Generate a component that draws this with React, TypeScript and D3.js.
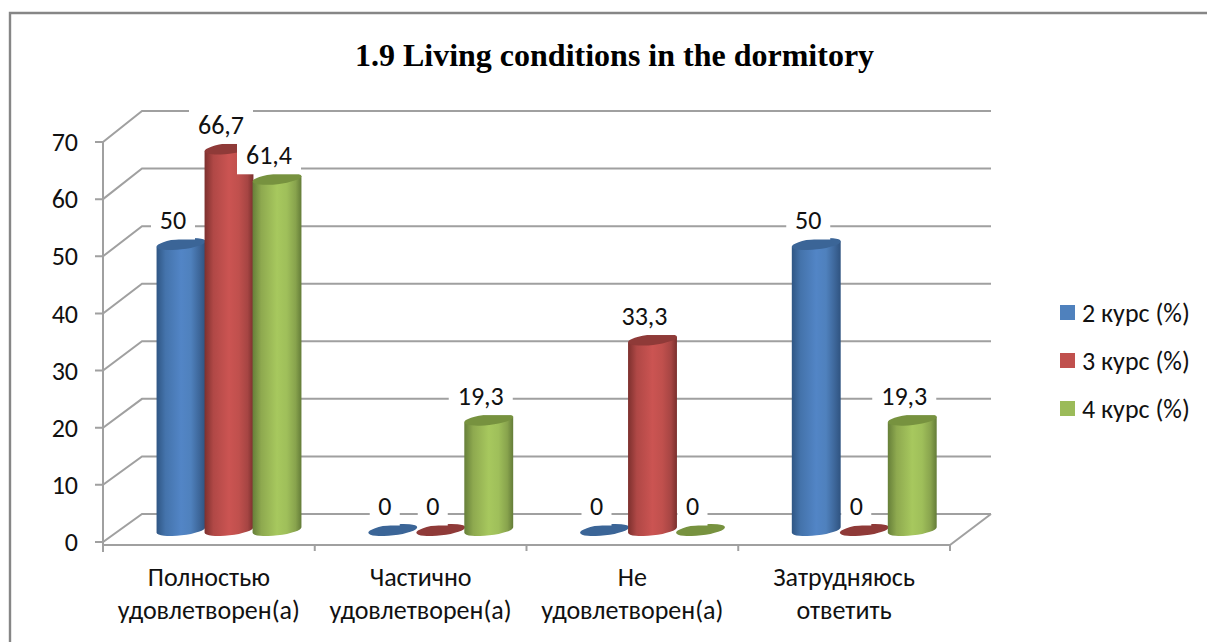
import React from "react";
import * as d3 from "d3";

const title = "1.9 Living conditions in the dormitory";
const categories = ["cat1", "cat2", "cat3", "cat4"];
const categoryLabels = [
  ["Полностью", "удовлетворен(а)"],
  ["Частично", "удовлетворен(а)"],
  ["Не", "удовлетворен(а)"],
  ["Затрудняюсь", "ответить"],
];
const seriesNames = ["2 курс (%)", "3 курс (%)", "4 курс (%)"];
const course2 = [50, 0, 0, 50];
const course3 = [66.7, 0, 33.3, 0];
const course4 = [61.4, 19.3, 0, 19.3];
const seriesValues = [course2, course3, course4];
const yTicks = [0, 10, 20, 30, 40, 50, 60, 70];

const legendColors = ["#4f81bd", "#c0504d", "#9bbb59"];
const capColors = ["#3b6597", "#8f3a38", "#77923f"];
const gradStops = [
  ["#2f5684", "#4473ab", "#5285c6", "#4f81bd", "#3d6699", "#2f5380"],
  ["#7d302e", "#b04846", "#cb5452", "#c0504d", "#a64543", "#7a2f2d"],
  ["#667f39", "#8ea94f", "#a7c85e", "#9fbf5a", "#88a34d", "#647c38"],
];
const stopOffsets = [0, 0.18, 0.5, 0.7, 0.88, 1];

const FONT = "Carlito, Lato, 'Open Sans', sans-serif";
const FONT_SIZE = 26;
const GRID = "#a0a0a0";
const TEXT = "#111";

const fmt = (v: number) => String(v).replace(".", ",");

export default function App() {
  const yFront = d3.scaleLinear().domain([0, 70]).range([542, 142]);
  const yBack = d3.scaleLinear().domain([0, 70]).range([514, 111]);
  const yBar = d3.scaleLinear().domain([0, 70]).range([530, 129.6]);
  const x0 = d3.scaleBand<string>().domain(categories).range([103, 950]);
  const x1 = d3.scaleBand<string>().domain(seriesNames).range([54, 198]);

  const rx = 24.6;
  const ry = 5.4;
  const rot = -6.5;
  const dy = rx * Math.sin((-rot * Math.PI) / 180);
  const dx = rx * Math.cos((-rot * Math.PI) / 180);

  const bars = seriesNames.flatMap((s, si) =>
    categories.map((c, ci) => {
      const v = seriesValues[si][ci];
      const cx = (x0(c) as number) + (x1(s) as number) + x1.bandwidth() / 2;
      return { si, ci, v, cx, top: yBar(v), base: yBar(0) };
    })
  );

  return (
    <svg
      width={1207}
      height={642}
      viewBox="0 0 1207 642"
      style={{ position: "absolute", left: 0, top: 0, display: "block", background: "#fff" }}
    >
      <defs>
        {gradStops.map((st, i) => (
          <linearGradient key={i} id={`cyl${i}`} x1="0" x2="1" y1="0" y2="0">
            {st.map((col, j) => (
              <stop key={j} offset={stopOffsets[j]} stopColor={col} />
            ))}
          </linearGradient>
        ))}
      </defs>

      {/* frame */}
      <path d="M10,642 V13 H1207" fill="none" stroke="#868686" strokeWidth={2.4} />

      <text
        x={614.5}
        y={66}
        textAnchor="middle"
        fontFamily="'Liberation Serif', serif"
        fontWeight="bold"
        fontSize={32}
        fill="#000"
      >
        {title}
      </text>

      {/* walls and gridlines */}
      <g fill="none" stroke={GRID} strokeWidth={2}>
        {yTicks.map((t) => (
          <path key={t} d={`M95,${yFront(t)} H103 L142,${yBack(t)} H991`} />
        ))}
        <path d={`M103,${yFront(70)} V552`} />
        <path d="M103,545 H950 L991,514" />
        {d3.range(0, 5).map((i) => {
          const x = i === 4 ? 950 : (x0(categories[i]) as number);
          return <path key={i} d={`M${x},545 V551`} />;
        })}
      </g>

      {/* y tick labels */}
      {yTicks.map((t) => (
        <text
          key={t}
          x={78}
          y={yFront(t)}
          dy="0.35em"
          textAnchor="end"
          fontFamily={FONT}
          fontSize={FONT_SIZE}
          fill={TEXT}
        >
          {t}
        </text>
      ))}

      {/* cylinders */}
      {bars.map((b) => {
        if (b.v === 0) {
          return (
            <ellipse
              key={`${b.si}-${b.ci}`}
              cx={b.cx}
              cy={b.base}
              rx={rx}
              ry={ry}
              transform={`rotate(${rot} ${b.cx} ${b.base})`}
              fill={capColors[b.si]}
            />
          );
        }
        const body = `M${b.cx - dx},${b.top + dy} L${b.cx - dx},${b.base + dy} A${rx},${ry} ${rot} 0 0 ${b.cx + dx},${b.base - dy} L${b.cx + dx},${b.top - dy} Z`;
        return (
          <g key={`${b.si}-${b.ci}`}>
            <path d={body} fill={`url(#cyl${b.si})`} />
            <ellipse
              cx={b.cx}
              cy={b.top}
              rx={rx}
              ry={ry}
              transform={`rotate(${rot} ${b.cx} ${b.top})`}
              fill={capColors[b.si]}
            />
          </g>
        );
      })}

      {/* data labels */}
      {bars.map((b) => {
        const label = fmt(b.v);
        const lx = b.cx - 8;
        const ly = b.top - 24;
        const half = label.length === 1 ? 15 : label.length === 2 ? 22 : 32;
        return (
          <g key={`l${b.si}-${b.ci}`}>
            <rect x={lx - half} y={ly - 22} width={half * 2} height={41.5} fill="#fff" />
            <text
              x={lx}
              y={ly}
              dy="0.35em"
              textAnchor="middle"
              fontFamily={FONT}
              fontSize={FONT_SIZE}
              fill={TEXT}
            >
              {label}
            </text>
          </g>
        );
      })}

      {/* category labels */}
      {categories.map((c, i) =>
        categoryLabels[i].map((line, j) => (
          <text
            key={`${c}-${j}`}
            x={(x0(c) as number) + x0.bandwidth() / 2}
            y={577 + j * 32.5}
            dy="0.35em"
            textAnchor="middle"
            fontFamily={FONT}
            fontSize={FONT_SIZE}
            fill={TEXT}
          >
            {line}
          </text>
        ))
      )}

      {/* legend */}
      {seriesNames.map((s, i) => (
        <g key={s}>
          <rect x={1060} y={305 + i * 48} width={15} height={15} fill={legendColors[i]} />
          <text
            x={1082}
            y={312.5 + i * 48}
            dy="0.35em"
            fontFamily={FONT}
            fontSize={FONT_SIZE}
            fill={TEXT}
          >
            {s}
          </text>
        </g>
      ))}
    </svg>
  );
}
